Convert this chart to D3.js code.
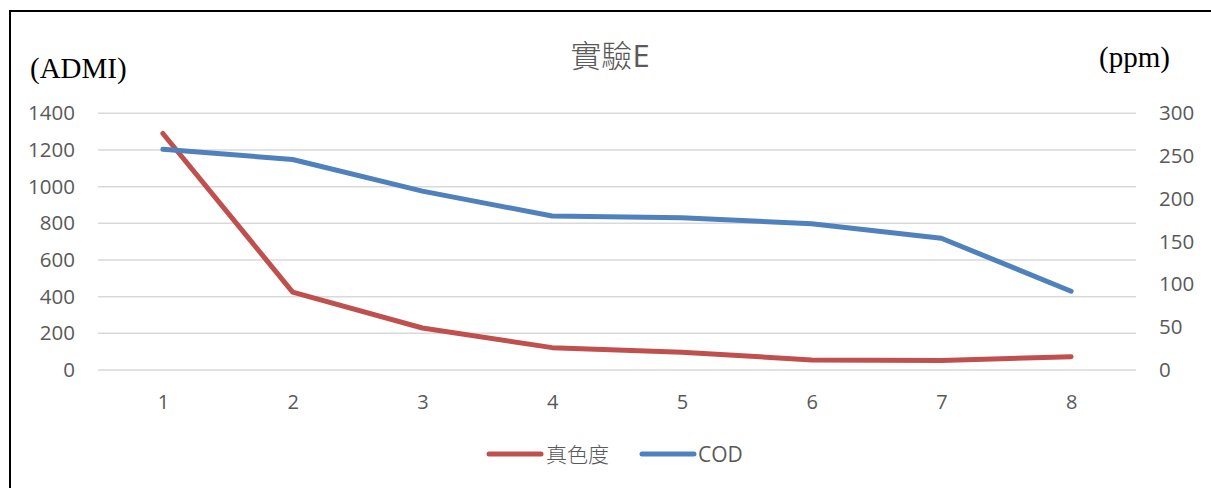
<!DOCTYPE html>
<html>
<head>
<meta charset="utf-8">
<script src="https://cdn.jsdelivr.net/npm/d3@7/dist/d3.min.js"></script>
<style>
  html, body { margin: 0; padding: 0; background: #fff; }
  svg { display: block; }
  .tick text { font-family: "Open Sans", "Noto Sans", sans-serif; fill: #595959; }
</style>
</head>
<body>
<svg id="chart" width="1211" height="488"></svg>
<script>
// Runs 1..8 of experiment E
const categories = ["1", "2", "3", "4", "5", "6", "7", "8"];
// True colour (ADMI), left axis
const colorValues = [1290, 425, 229, 122, 97, 55, 52, 72];
// COD (ppm), right axis
const codValues = [258, 246, 209, 180, 178, 171, 154, 92];
const leftTicks = [0, 200, 400, 600, 800, 1000, 1200, 1400];
const rightTicks = [0, 50, 100, 150, 200, 250, 300];
const seriesNames = ["真色度", "COD"];
const seriesColors = ["#C0504D", "#4F81BD"];

const svg = d3.select("#chart");
const W = 1211, H = 488;
const plot = { left: 98, right: 1136, top: 113.3, bottom: 370 };

// chart frame
svg.append("rect")
  .attr("x", 10).attr("y", 11)
  .attr("width", W + 20).attr("height", H + 20)
  .attr("fill", "none").attr("stroke", "#000").attr("stroke-width", 2);

const x = d3.scalePoint().domain(categories).range([plot.left, plot.right]).padding(0.5);
const yL = d3.scaleLinear().domain([0, 1400]).range([plot.bottom, plot.top]);
const yR = d3.scaleLinear().domain([0, 300]).range([plot.bottom, plot.top]);

// gridlines
svg.append("g")
  .selectAll("line").data(leftTicks).join("line")
  .attr("x1", plot.left).attr("x2", plot.right)
  .attr("y1", d => yL(d)).attr("y2", d => yL(d))
  .attr("stroke", "#d9d9d9").attr("stroke-width", 1.5);

// left axis
const gL = svg.append("g").attr("transform", "translate(80,0)")
  .call(d3.axisLeft(yL).tickValues(leftTicks).tickFormat(d3.format("d")).tickSize(0).tickPadding(5));
gL.select(".domain").remove();
gL.selectAll("text").attr("font-size", 20.5);

// right axis
const gR = svg.append("g").attr("transform", "translate(1154,0)")
  .call(d3.axisRight(yR).tickValues(rightTicks).tickFormat(d3.format("d")).tickSize(0).tickPadding(5));
gR.select(".domain").remove();
gR.selectAll("text").attr("font-size", 20.5);

// category axis
const gX = svg.append("g").attr("transform", "translate(0,387)")
  .call(d3.axisBottom(x).tickSize(0).tickPadding(8));
gX.select(".domain").remove();
gX.selectAll("text").attr("font-size", 20);

// series lines
const lineL = d3.line().x((d, i) => x(categories[i])).y(d => yL(d));
const lineR = d3.line().x((d, i) => x(categories[i])).y(d => yR(d));

svg.append("path").datum(colorValues)
  .attr("d", lineL).attr("fill", "none")
  .attr("stroke", seriesColors[0]).attr("stroke-width", 5)
  .attr("stroke-linecap", "round").attr("stroke-linejoin", "round");

svg.append("path").datum(codValues)
  .attr("d", lineR).attr("fill", "none")
  .attr("stroke", seriesColors[1]).attr("stroke-width", 5)
  .attr("stroke-linecap", "round").attr("stroke-linejoin", "round");

// title: light CJK glyphs followed by a regular-weight Latin letter
const title = svg.append("text")
  .attr("x", 610).attr("y", 67).attr("text-anchor", "middle")
  .attr("font-family", "'Noto Sans CJK TC', 'Noto Sans', sans-serif")
  .attr("font-size", 31).attr("fill", "#595959");
title.append("tspan").attr("font-weight", 300).text("實驗");
title.append("tspan").attr("font-family", "'Open Sans', sans-serif").attr("font-weight", 400).text("E");

// axis unit labels
svg.append("text")
  .attr("x", 30).attr("y", 78)
  .attr("font-family", "'Liberation Serif', 'DejaVu Serif', serif")
  .attr("font-size", 29).attr("fill", "#000")
  .text("(ADMI)");

svg.append("text")
  .attr("x", 1099).attr("y", 67)
  .attr("font-family", "'Liberation Serif', 'DejaVu Serif', serif")
  .attr("font-size", 29).attr("fill", "#000")
  .text("(ppm)");

// legend
const legendItems = [
  { name: seriesNames[0], color: seriesColors[0], x0: 489, x1: 541, tx: 546, font: "'Noto Sans CJK TC', sans-serif", weight: 300 },
  { name: seriesNames[1], color: seriesColors[1], x0: 642, x1: 694, tx: 698, font: "'Open Sans', 'Noto Sans', sans-serif", weight: 400 }
];
const lg = svg.append("g");
legendItems.forEach(it => {
  lg.append("line")
    .attr("x1", it.x0).attr("x2", it.x1).attr("y1", 454).attr("y2", 454)
    .attr("stroke", it.color).attr("stroke-width", 5).attr("stroke-linecap", "round");
  lg.append("text")
    .attr("x", it.tx).attr("y", 462)
    .attr("font-family", it.font).attr("font-weight", it.weight)
    .attr("font-size", 21).attr("fill", "#595959")
    .text(it.name);
});
</script>
</body>
</html>
